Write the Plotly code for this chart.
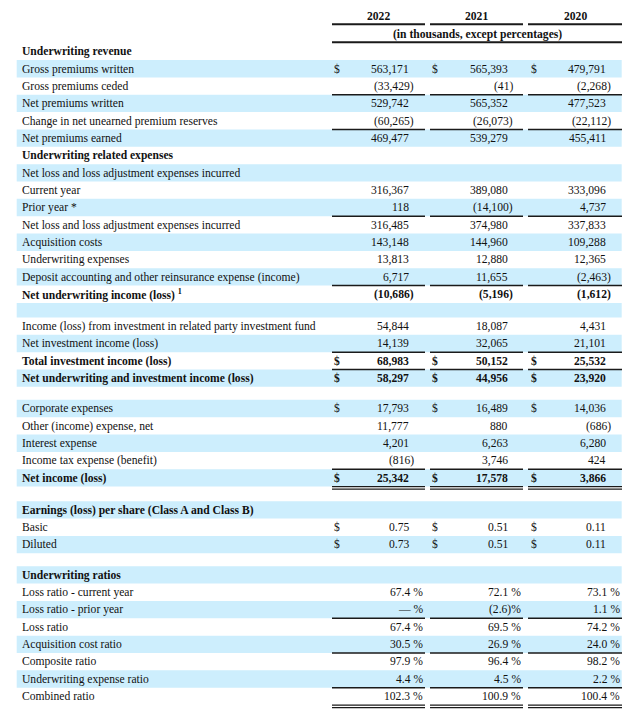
import plotly.graph_objects as go

# ---------------- data ----------------
years = ["2022", "2021", "2020"]
unit_note = "(in thousands, except percentages)"

labels = [
    "Underwriting revenue",
    "Gross premiums written",
    "Gross premiums ceded",
    "Net premiums written",
    "Change in net unearned premium reserves",
    "Net premiums earned",
    "Underwriting related expenses",
    "Net loss and loss adjustment expenses incurred",
    "Current year",
    "Prior year *",
    "Net loss and loss adjustment expenses incurred",
    "Acquisition costs",
    "Underwriting expenses",
    "Deposit accounting and other reinsurance expense (income)",
    "Net underwriting income (loss) <sup>1</sup>",
    "",
    "Income (loss) from investment in related party investment fund",
    "Net investment income (loss)",
    "Total investment income (loss)",
    "Net underwriting and investment income (loss)",
    "",
    "Corporate expenses",
    "Other (income) expense, net",
    "Interest expense",
    "Income tax expense (benefit)",
    "Net income (loss)",
    "",
    "Earnings (loss) per share (Class A and Class B)",
    "Basic",
    "Diluted",
    "",
    "Underwriting ratios",
    "Loss ratio - current year",
    "Loss ratio - prior year",
    "Loss ratio",
    "Acquisition cost ratio",
    "Composite ratio",
    "Underwriting expense ratio",
    "Combined ratio",
]

v2022 = [None, 563171, -33429, 529742, -60265, 469477, None, None, 316367, 118,
         316485, 143148, 13813, 6717, -10686, None, 54844, 14139, 68983, 58297,
         None, 17793, 11777, 4201, -816, 25342, None, None, 0.75, 0.73, None,
         None, 67.4, 0.0, 67.4, 30.5, 97.9, 4.4, 102.3]
v2021 = [None, 565393, -41, 565352, -26073, 539279, None, None, 389080, -14100,
         374980, 144960, 12880, 11655, -5196, None, 18087, 32065, 50152, 44956,
         None, 16489, 880, 6263, 3746, 17578, None, None, 0.51, 0.51, None,
         None, 72.1, -2.6, 69.5, 26.9, 96.4, 4.5, 100.9]
v2020 = [None, 479791, -2268, 477523, -22112, 455411, None, None, 333096, 4737,
         337833, 109288, 12365, -2463, -1612, None, 4431, 21101, 25532, 23920,
         None, 14036, -686, 6280, 424, 3866, None, None, 0.11, 0.11, None,
         None, 73.1, 1.1, 74.2, 24.0, 98.2, 2.2, 100.4]

# row kinds: head / text / num / eps / pct / blank
row_kind = (["head"] + ["num"] * 5 + ["head", "text"] + ["num"] * 7 + ["blank"]
            + ["num"] * 4 + ["blank"] + ["num"] * 5 + ["blank"]
            + ["head", "eps", "eps", "blank", "head"] + ["pct"] * 7)

# ---------------- styling ----------------
bold_rows = {0, 6, 14, 18, 19, 25, 27, 31}
dollar_rows = {1, 18, 19, 21, 25, 28, 29}
single_rule_rows = {2, 4, 9, 13, 17, 18, 24, 33, 35, 37}
double_rule_rows = {25, 38}

FONT = "Liberation Serif, Times New Roman, serif"
FS = 11.6
TXT = "#111111"
BAND = "#cdeefd"
RULE = "#1a1a1a"

ROW_H = 17.35
blank_heights = [14.5, 13.0, 14.6, 13.0]
TOP0 = 42.7

band_x = (16.7, 621.7)
label_x = 20.5
col_lines = [(332, 425), (430, 523), (528, 622)]
dollar_x = [336.5, 435, 533.5]
num_right = [410, 508.5, 607]
paren_shift = 5
pct_right = [424, 522, 621]

series = [v2022, v2021, v2020]


def fmt_num(v):
    s = f"{abs(v):,.0f}"
    return f"({s})" if v < 0 else s


def fmt_pct(v):
    if v == 0:
        return "— %"
    if v < 0:
        return f"({abs(v):.1f})%"
    return f"{v:.1f} %"


fig = go.Figure()
fig.add_trace(go.Scatter(x=[0, 640], y=[0, 710], mode="lines",
                         line=dict(width=0), hoverinfo="skip",
                         showlegend=False))


def ann(x, y, text, anchor, bold=False, size=FS):
    t = f"<b>{text}</b>" if bold else text
    fig.add_annotation(x=x, y=y, xref="x", yref="y", text=t, showarrow=False,
                       xanchor=anchor, yanchor="middle", borderpad=0,
                       font=dict(family=FONT, size=size, color=TXT))


def hline(x0, x1, y, w):
    fig.add_shape(type="line", xref="x", yref="y", x0=x0, x1=x1, y0=y, y1=y,
                  line=dict(color=RULE, width=w), layer="above")


# header
for j, yr in enumerate(years):
    a, b = col_lines[j]
    ann((a + b) / 2, 16.7, yr, "center", bold=True)
    hline(a, b, 24.3, 2)
ann((col_lines[0][0] + col_lines[2][1]) / 2, 34.3, unit_note, "center", bold=True)
hline(col_lines[0][0], col_lines[2][1], 42.3, 2)

# rows
top = TOP0
bi = 0
for i, lab in enumerate(labels):
    kind = row_kind[i]
    if kind == "blank":
        h = blank_heights[bi]
        bi += 1
    else:
        h = ROW_H
    bottom = top + h
    yc = (top + bottom) / 2
    if i % 2 == 1:
        fig.add_shape(type="rect", xref="x", yref="y", x0=band_x[0], x1=band_x[1],
                      y0=top, y1=bottom, fillcolor=BAND, line=dict(width=0),
                      layer="below")
    bold = i in bold_rows
    if lab:
        ann(label_x, yc + 0.3, lab, "left", bold=bold)
    if kind in ("num", "eps", "pct"):
        for j in range(3):
            v = series[j][i]
            if v is None:
                continue
            if kind == "num":
                s = fmt_num(v)
                x = num_right[j] + (paren_shift if v < 0 else 0)
            elif kind == "eps":
                s = f"{v:.2f}"
                x = num_right[j]
            else:
                s = fmt_pct(v)
                x = pct_right[j]
            ann(x, yc + 0.3, s, "right", bold=bold)
            if i in dollar_rows:
                ann(dollar_x[j], yc + 0.3, "$", "center", bold=bold)
    if i in single_rule_rows:
        for a, b in col_lines:
            hline(a, b, bottom, 1.5)
    if i in double_rule_rows:
        for a, b in col_lines:
            hline(a, b, bottom, 1.2)
            hline(a, b, bottom + 2.6, 1.2)
    top = bottom

fig.update_layout(
    width=640, height=710,
    margin=dict(l=0, r=0, t=0, b=0),
    paper_bgcolor="white", plot_bgcolor="white",
    xaxis=dict(range=[0, 640], visible=False, fixedrange=True),
    yaxis=dict(range=[710, 0], visible=False, fixedrange=True),
    showlegend=False,
)

fig.write_html(
    "out.html",
    config={"displayModeBar": False},
    post_script="document.body.style.margin='0';document.body.style.overflow='hidden';",
)
